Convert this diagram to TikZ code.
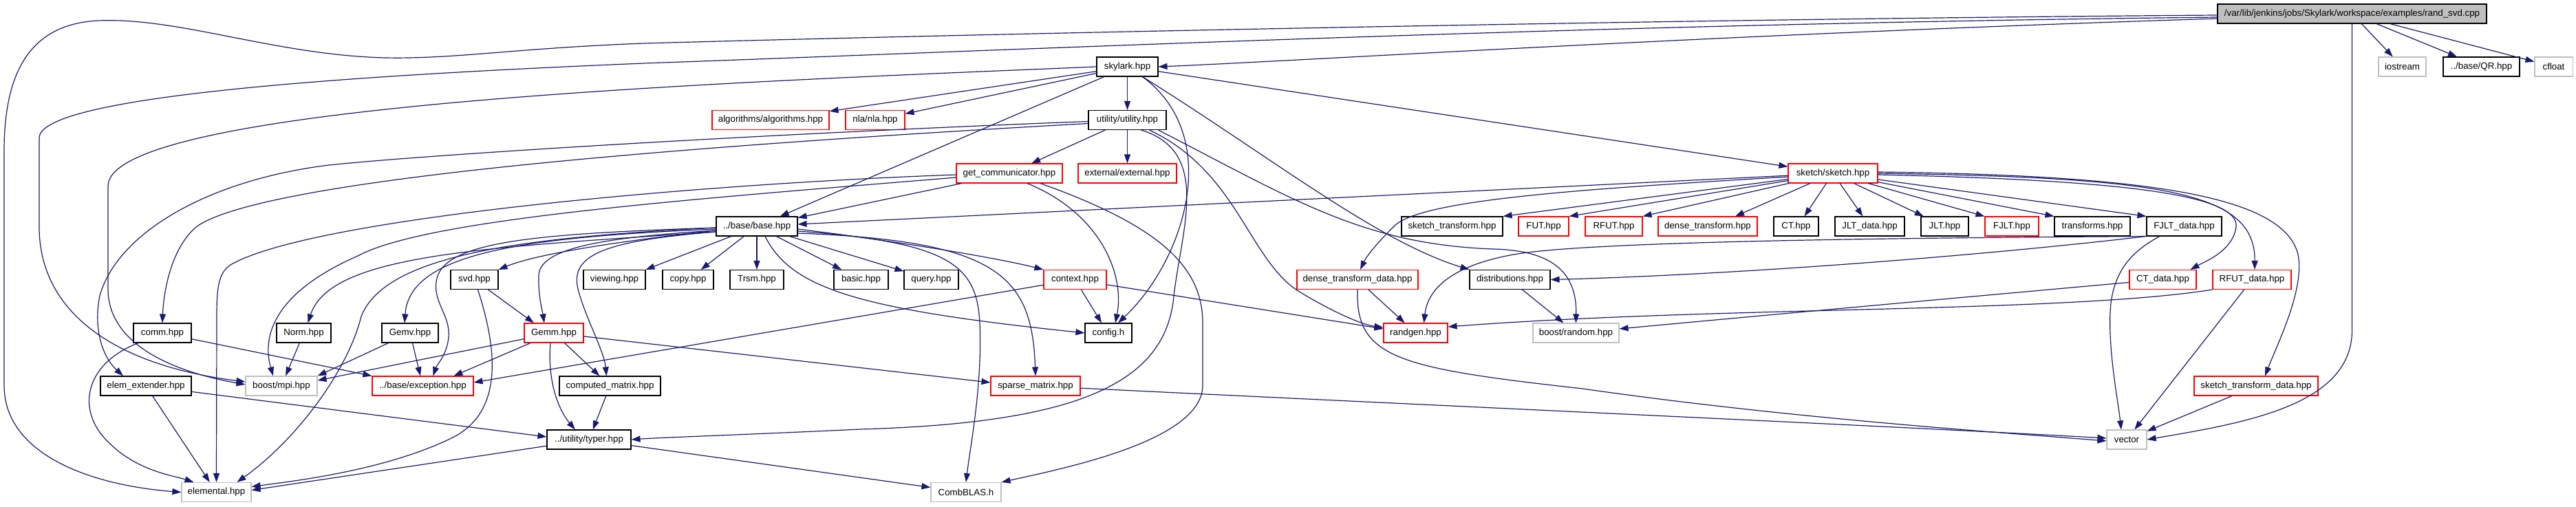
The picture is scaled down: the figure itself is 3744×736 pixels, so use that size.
\documentclass[tikz,border=0pt]{standalone}
\usepackage{fontspec}
\setmainfont{Liberation Sans}
\usetikzlibrary{arrows.meta}
\definecolor{edgec}{HTML}{191970}
\definecolor{greyc}{HTML}{BFBFBF}
\begin{document}
\begin{tikzpicture}[x=1pt,y=-1pt,
  nd/.style={draw, line width=1.1pt, fill=white, inner sep=0pt, minimum height=28pt,
    font=\fontsize{13.3}{16}\selectfont},
  blk/.style={nd, draw=black},
  rd/.style={nd, draw=red},
  gy/.style={nd, draw=greyc},
  topn/.style={nd, draw=black, fill=greyc},
  edge/.style={draw=edgec, line width=1.2pt, -{Triangle[length=13pt,width=9pt]}}]
\useasboundingbox (0,0) rectangle (3744,736);
% row 0
\node[topn, minimum width=391pt] (top) at (3418.5,20) {/var/lib/jenkins/jobs/Skylark/workspace/examples/rand\_svd.cpp};
% row 1
\node[blk, minimum width=89pt] (skylark) at (1638.5,97) {skylark.hpp};
\node[gy, minimum width=69pt] (iostream) at (3491.5,97) {iostream};
\node[blk, minimum width=111pt] (QR) at (3606.5,97) {../base/QR.hpp};
\node[gy, minimum width=55pt] (cfloat) at (3711.5,97) {cfloat};
% row 2
\node[rd, minimum width=170pt] (algorithms) at (1120,174.5) {algorithms/algorithms.hpp};
\node[rd, minimum width=86pt] (nla) at (1272,174.5) {nla/nla.hpp};
\node[blk, minimum width=113pt] (utility) at (1638.5,174.5) {utility/utility.hpp};
% row 3
\node[rd, minimum width=154pt] (getcomm) at (1467,252) {get\_communicator.hpp};
\node[rd, minimum width=143pt] (external) at (1638.5,252) {external/external.hpp};
\node[rd, minimum width=130pt] (sketch) at (2664,252) {sketch/sketch.hpp};
% row 4
\node[blk, minimum width=118pt] (base) at (1100,329) {../base/base.hpp};
\node[blk, minimum width=147pt] (sktr) at (2110.5,329) {sketch\_transform.hpp};
\node[rd, minimum width=73pt] (FUT) at (2243.5,329) {FUT.hpp};
\node[rd, minimum width=83pt] (RFUT) at (2345.5,329) {RFUT.hpp};
\node[rd, minimum width=144pt] (dentr) at (2482,329) {dense\_transform.hpp};
\node[blk, minimum width=65pt] (CT) at (2610.5,329) {CT.hpp};
\node[blk, minimum width=101pt] (JLTdata) at (2717.5,329) {JLT\_data.hpp};
\node[blk, minimum width=69pt] (JLT) at (2826.5,329) {JLT.hpp};
\node[rd, minimum width=78pt] (FJLT) at (2924,329) {FJLT.hpp};
\node[blk, minimum width=110pt] (transforms) at (3041,329) {transforms.hpp};
\node[blk, minimum width=109pt] (FJLTdata) at (3174.5,329) {FJLT\_data.hpp};
% row 5
\node[blk, minimum width=69pt] (svd) at (689.5,406.5) {svd.hpp};
\node[blk, minimum width=90pt] (viewing) at (893,406.5) {viewing.hpp};
\node[blk, minimum width=74pt] (copy) at (1000,406.5) {copy.hpp};
\node[blk, minimum width=78pt] (Trsm) at (1100,406.5) {Trsm.hpp};
\node[blk, minimum width=79pt] (basic) at (1251.5,406.5) {basic.hpp};
\node[blk, minimum width=79pt] (query) at (1353.5,406.5) {query.hpp};
\node[rd, minimum width=91pt] (context) at (1562.5,406.5) {context.hpp};
\node[rd, minimum width=176pt] (dentd) at (1973,406.5) {dense\_transform\_data.hpp};
\node[blk, minimum width=117pt] (distr) at (2194.5,406.5) {distributions.hpp};
\node[rd, minimum width=97pt] (CTdata) at (3143.5,406.5) {CT\_data.hpp};
\node[rd, minimum width=114pt] (RFUTdata) at (3273,406.5) {RFUT\_data.hpp};
% row 6
\node[blk, minimum width=84pt] (comm) at (236,484) {comm.hpp};
\node[blk, minimum width=79pt] (Norm) at (441.5,484) {Norm.hpp};
\node[blk, minimum width=82pt] (Gemv) at (596,484) {Gemv.hpp};
\node[rd, minimum width=86pt] (Gemm) at (805,484) {Gemm.hpp};
\node[blk, minimum width=68pt] (config) at (1611,484) {config.h};
\node[rd, minimum width=93pt] (randgen) at (2057.5,484) {randgen.hpp};
\node[gy, minimum width=125pt] (brandom) at (2290.5,484) {boost/random.hpp};
% row 7
\node[blk, minimum width=132pt] (elemext) at (212,561) {elem\_extender.hpp};
\node[gy, minimum width=104pt] (mpi) at (409,561) {boost/mpi.hpp};
\node[rd, minimum width=147pt] (exception) at (614.5,561) {../base/exception.hpp};
\node[blk, minimum width=147pt] (computed) at (886.5,561) {computed\_matrix.hpp};
\node[rd, minimum width=130pt] (sparse) at (1505,561) {sparse\_matrix.hpp};
\node[rd, minimum width=180pt] (sktd) at (3279,561) {sketch\_transform\_data.hpp};
% row 8
\node[blk, minimum width=122pt] (typer) at (856,639) {../utility/typer.hpp};
\node[gy, minimum width=58pt] (vector) at (3091,639) {vector};
% row 9
\node[gy, minimum width=101pt] (elemental) at (314.5,715.5) {elemental.hpp};
\node[gy, minimum width=102pt] (CombBLAS) at (1404,715.5) {CombBLAS.h};

% ---- edges from rand_svd.cpp
\draw[edge] ([yshift=-7pt]top.west) .. controls (2500,50) and (1900,88) .. (skylark.east);
\draw[edge] ([yshift=-2pt]top.west) .. controls (2400,28) and (1400,50) .. (936,63) .. controls (750,70) and (660,86) .. (560,84) .. controls (400,80) and (260,25) .. (143,30) .. controls (40,35) and (6,110) .. (6,220) -- (6,560) .. controls (6,660) and (130,705) .. (elemental.west);
\draw[edge] ([yshift=-5pt]top.west) .. controls (2300,35) and (1500,72) .. (936,92) .. controls (500,110) and (60,140) .. (57,200) -- (57,330) .. controls (57,450) and (160,530) .. ([yshift=6pt]mpi.west);
\draw[edge] (top) -- (iostream);
\draw[edge] (top) -- (QR);
\draw[edge] (top) -- (cfloat);
\draw[edge] (top.south) -- (3418.5,480) .. controls (3418.5,590) and (3260,615) .. (vector.east);

% ---- skylark
\draw[edge] (skylark) -- (algorithms);
\draw[edge] (skylark) -- (nla);
\draw[edge] (skylark) -- (utility);
\draw[edge] (skylark) -- (base);
\draw[edge] (skylark) -- (sketch);
\draw[edge] (skylark.west) .. controls (1100,118) and (160,150) .. (157,270) -- (157,420) .. controls (157,500) and (250,540) .. ([yshift=2pt]mpi.west);
\draw[edge] ([xshift=22pt]skylark.south) .. controls (1780,200) and (1720,380) .. ([xshift=14pt]config.north);
\draw[edge] ([xshift=22pt]skylark.south) .. controls (1850,230) and (2000,350) .. (distr.north west);

% ---- utility
\draw[edge] (utility) -- (getcomm);
\draw[edge] (utility) -- (external);
\draw[edge] ([yshift=-2pt]utility.west) .. controls (1100,195) and (620,225) .. (478,240) .. controls (300,262) and (170,340) .. (145,430) .. controls (135,480) and (150,520) .. ([xshift=-33pt]elemext.north);
\draw[edge] ([yshift=-5pt]utility.west) .. controls (1000,212) and (380,260) .. (285,330) .. controls (250,360) and (238,420) .. (comm.north);
\draw[edge] ([xshift=45pt]utility.south) .. controls (1880,290) and (1980,355) .. (2170,362) .. controls (2255,364) and (2292,395) .. (brandom.north);
\draw[edge] ([xshift=32pt]utility.south) .. controls (1800,250) and (1815,380) .. (1890,425) .. controls (1940,455) and (1980,472) .. ([yshift=8pt]randgen.west);
\draw[edge] ([xshift=20pt]utility.south) .. controls (1760,220) and (1718,330) .. (1706,430) .. controls (1695,560) and (1560,615) .. (1250,624) .. controls (1080,632) and (960,636) .. (typer.east);

% ---- get_communicator
\draw[edge] (getcomm) -- (base);
\draw[edge] ([yshift=-2pt]getcomm.west) .. controls (1000,268) and (450,318) .. (335,385) .. controls (317,397) and (315,420) .. (315,460) -- (elemental.north);
\draw[edge] ([yshift=-6pt]getcomm.west) .. controls (1000,290) and (620,318) .. (520,372) .. controls (410,420) and (378,480) .. ([xshift=-12pt]mpi.north);
\draw[edge] ([xshift=26pt]getcomm.south) .. controls (1600,310) and (1635,400) .. ([xshift=10pt]config.north);
\draw[edge] ([xshift=45pt]getcomm.south) .. controls (1690,330) and (1748,390) .. (1748,470) -- (1748,560) .. controls (1748,640) and (1550,680) .. (CombBLAS.north east);

% ---- base
\draw[edge] ([yshift=-6pt]base.west) .. controls (950,345) and (790,365) .. (svd.north east);
\draw[edge] (base) -- (viewing.north east);
\draw[edge] (base) -- (copy);
\draw[edge] (base) -- (Trsm);
\draw[edge] (base) -- (basic);
\draw[edge] (base) -- (query);
\draw[edge] ([yshift=-4pt]base.east) .. controls (1300,350) and (1450,375) .. (context.north west);
\draw[edge] ([yshift=-7pt]base.east) .. controls (1380,352) and (1420,385) .. (1424,470) .. controls (1428,560) and (1410,650) .. (CombBLAS.north);
\draw[edge] ([yshift=-10pt]base.east) .. controls (1450,350) and (1500,400) .. (sparse.north);
\draw[edge] ([xshift=12pt]base.south) .. controls (1150,420) and (1250,450) .. (config.west);
\draw[edge] ([yshift=-8pt]base.west) .. controls (700,360) and (480,370) .. ([xshift=6pt]Norm.north);
\draw[edge] ([yshift=-4pt]base.west) .. controls (750,345) and (595,370) .. ([xshift=-8pt]Gemv.north);
\draw[edge] ([yshift=-2pt]base.west) .. controls (780,340) and (640,350) .. (634,410) .. controls (630,440) and (655,460) .. (652,490) .. controls (650,515) and (635,530) .. ([xshift=15pt]exception.north);
\draw[edge] ([yshift=-2pt]base.west) .. controls (760,345) and (560,370) .. (525,460) .. controls (505,540) and (430,640) .. ([xshift=30pt]elemental.north);
\draw[edge] ([yshift=-6pt]base.west) .. controls (880,345) and (785,360) .. (783,400) .. controls (782,430) and (788,450) .. ([xshift=-14pt]Gemm.north);
\draw[edge] ([yshift=-8pt]base.west) .. controls (880,350) and (828,370) .. (840,420) .. controls (850,460) and (878,510) .. ([xshift=-5pt]computed.north);

% ---- context
\draw[edge] (context) -- ([xshift=-10pt]config.north);
\draw[edge] (context) -- ([yshift=5pt]exception.east);
\draw[edge] (context) -- ([yshift=6pt]randgen.west);

% ---- sketch
\draw[edge] (sketch) -- ([yshift=3pt]base.east);
\draw[edge] ([yshift=-5pt]sketch.west) .. controls (2300,275) and (2060,290) .. (2025,330) .. controls (1995,360) and (1985,375) .. ([xshift=4pt]dentd.north);
\draw[edge] (sketch) -- (sktr.north east);
\draw[edge] (sketch) -- (FUT.north east);
\draw[edge] (sketch) -- (RFUT.north east);
\draw[edge] (sketch) -- ([xshift=40pt]dentr.north);
\draw[edge] (sketch) -- ([xshift=12pt]CT.north);
\draw[edge] (sketch) -- (JLTdata);
\draw[edge] (sketch) -- (JLT);
\draw[edge] (sketch) -- (FJLT.north west);
\draw[edge] (sketch) -- (transforms.north west);
\draw[edge] (sketch) -- (FJLTdata.north west);
\draw[edge] ([yshift=-2pt]sketch.east) .. controls (3100,262) and (3255,285) .. (3250,330) .. controls (3245,365) and (3205,380) .. ([xshift=40pt]CTdata.north);
\draw[edge] (sketch.east) .. controls (3150,258) and (3278,280) .. ([xshift=4pt]RFUTdata.north);
\draw[edge] ([yshift=2pt]sketch.east) .. controls (3150,255) and (3320,290) .. (3340,370) .. controls (3350,420) and (3310,500) .. ([xshift=13pt]sktd.north);

% ---- FJLT_data
\draw[edge] ([xshift=-36pt]FJLTdata.south) .. controls (3100,365) and (3075,390) .. (3068,440) .. controls (3062,500) and (3078,580) .. ([xshift=-8pt]vector.north);
\draw[edge] (FJLTdata.south west) .. controls (2850,375) and (2500,400) .. (distr.east);
\draw[edge] (FJLTdata.south west) .. controls (2700,346) and (2300,352) .. (2200,370) .. controls (2110,386) and (2075,420) .. ([xshift=12pt]randgen.north);

% ---- dense_transform_data and others
\draw[edge] (dentd) -- (randgen);
\draw[edge] (dentd.south) .. controls (1970,520) and (2030,535) .. (2300,565) .. controls (2600,608) and (2900,628) .. ([yshift=-2pt]vector.west);
\draw[edge] (distr) -- (brandom);
\draw[edge] ([yshift=-4pt]CTdata.west) .. controls (2900,428) and (2600,455) .. ([yshift=6pt]brandom.east);
\draw[edge] (RFUTdata.south west) .. controls (3000,455) and (2500,445) .. ([yshift=9pt]randgen.east);
\draw[edge] (RFUTdata) -- (vector);
\draw[edge] (sktd) -- (vector);

% ---- middle leaves
\draw[edge] (svd) -- ([xshift=-29pt]Gemm.north);
\draw[edge] ([xshift=5pt]svd.south) .. controls (720,500) and (735,595) .. (660,635) .. controls (560,685) and (420,700) .. ([yshift=8pt]elemental.east);
\draw[edge] ([xshift=-35pt]comm.south) .. controls (120,530) and (110,600) .. (160,645) .. controls (200,685) and (255,692) .. ([xshift=-33pt]elemental.north);
\draw[edge] (comm) -- (exception.north west);
\draw[edge] (elemext) -- (elemental);
\draw[edge] (elemext) -- ([yshift=4pt]typer.west);
\draw[edge] (Norm) -- (mpi);
\draw[edge] (Gemv) -- (mpi.north east);
\draw[edge] (Gemv) -- (exception);
\draw[edge] (Gemm) -- ([yshift=8pt]mpi.east);
\draw[edge] (Gemm) -- ([xshift=45pt]exception.north);
\draw[edge] (Gemm) -- ([xshift=-15pt]computed.north);
\draw[edge] ([xshift=-5pt]Gemm.south) .. controls (795,560) and (815,600) .. ([xshift=-20pt]typer.north);
\draw[edge] (Gemm) -- ([yshift=5pt]sparse.west);
\draw[edge] (computed) -- (typer);
\draw[edge] (typer) -- ([yshift=3pt]elemental.east);
\draw[edge] (typer) -- ([yshift=7pt]CombBLAS.west);
\draw[edge] (sparse) .. controls (2100,590) and (2800,622) .. ([yshift=2pt]vector.west);
\end{tikzpicture}
\end{document}
